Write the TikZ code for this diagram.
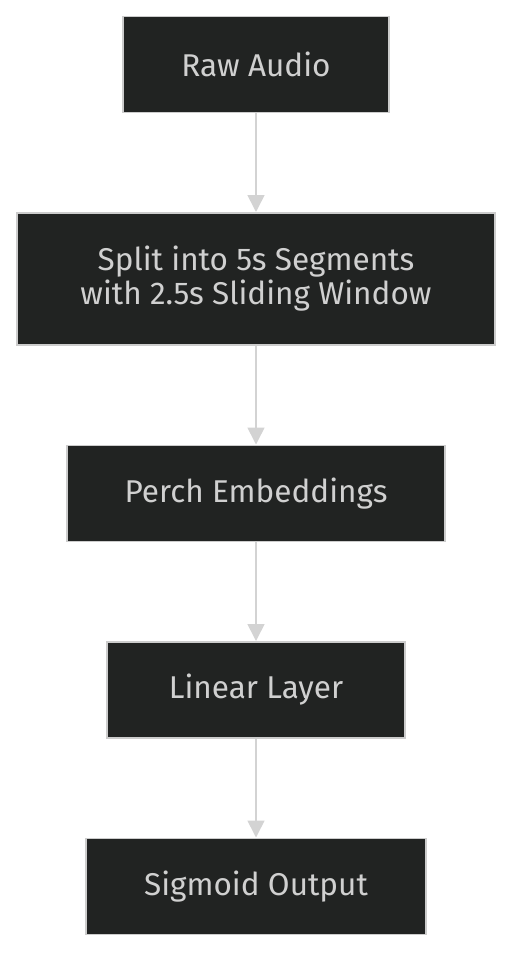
\documentclass[tikz,border=0pt]{standalone}
\usepackage{fontspec}
\setmainfont{Fira Sans}
\usetikzlibrary{positioning,arrows.meta}
\definecolor{boxfill}{HTML}{212322}
\definecolor{boxline}{HTML}{CCCCCC}
\definecolor{boxtext}{HTML}{D0D0D0}
\definecolor{flow}{HTML}{D3D3D3}
\tikzset{
  stage/.style={draw=boxline,line width=1.5pt,fill=boxfill,text=boxtext,
    minimum height=96pt,align=center,inner sep=0pt,
    font=\fontsize{31.5}{34}\selectfont},
  flowline/.style={draw=flow,line width=1.6pt,-{Triangle[length=17pt,width=17pt]}}
}
\begin{document}
\begin{tikzpicture}[x=1pt,y=-1pt,node distance=99pt]
  \path[use as bounding box] (0,0) rectangle (512,954);
  \node[stage,minimum width=266pt,anchor=north] (raw) at (256,15.5) {Raw Audio};
  \node[stage,minimum width=478pt,minimum height=132pt,below=of raw] (split)
    {Split into 5s Segments\\with 2.5s Sliding Window};
  \node[stage,minimum width=378pt,below=of split] (perch) {Perch Embeddings};
  \node[stage,minimum width=298pt,below=of perch] (linear) {Linear Layer};
  \node[stage,minimum width=340pt,below=of linear] (sigmoid) {Sigmoid Output};
  \foreach \a/\b in {raw/split,split/perch,perch/linear,linear/sigmoid}{
    \draw[flowline] (\a) -- (\b);
  }
\end{tikzpicture}
\end{document}
